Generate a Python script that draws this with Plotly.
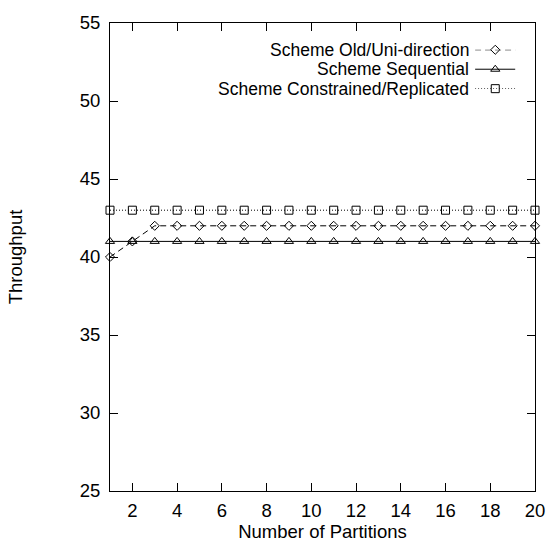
import plotly.graph_objects as go

partitions = list(range(1, 21))
old_uni = [40, 41] + [42] * 18
sequential = [41] * 20
constrained = [43] * 20

series_names = [
    "Scheme Old/Uni-direction",
    "Scheme Sequential",
    "Scheme Constrained/Replicated",
]
series_values = [old_uni, sequential, constrained]
series_symbols = ["diamond-open", "triangle-up-open", "square-open"]
series_sizes = [7, 8, 8]
series_dash = ["6px,4px", "solid", "1px,2px"]

x_ticks = list(range(2, 21, 2))
y_ticks = list(range(25, 56, 5))

FONT = "Liberation Sans, Arial, sans-serif"
FSIZE = 18.5
KEY_FSIZE = 17.5

fig = go.Figure()

for name, vals, sym, size, dash in zip(series_names, series_values, series_symbols,
                                       series_sizes, series_dash):
    fig.add_trace(go.Scatter(
        x=partitions, y=vals, name=name, mode="lines+markers",
        line=dict(color="black", width=1, dash=dash),
        marker=dict(symbol=sym, size=size, color="black", line=dict(width=1, color="black")),
        showlegend=False, cliponaxis=False,
    ))

# key drawn gnuplot-style: label on the left, sample on the right
legend_rows = [0, 1, 2]
legend_text_y = [0.9428, 0.9012, 0.8597]
for row, ty, name, sym, size, dash in zip(legend_rows, legend_text_y, series_names,
                                          series_symbols, series_sizes, series_dash):
    fig.add_trace(go.Scatter(
        x=[0.0, 1.0], y=[row, row], mode="lines", xaxis="x2", yaxis="y2",
        line=dict(color="black", width=1, dash=dash), showlegend=False, hoverinfo="skip",
        cliponaxis=False,
    ))
    fig.add_trace(go.Scatter(
        x=[0.5], y=[row], mode="markers", xaxis="x2", yaxis="y2",
        marker=dict(symbol=sym, size=size, color="black", line=dict(width=1, color="black")),
        showlegend=False, hoverinfo="skip", cliponaxis=False,
    ))
    fig.add_annotation(
        x=0.848, y=ty, xref="paper", yref="paper", text=name, showarrow=False,
        xanchor="right", yanchor="middle", borderpad=0,
        font=dict(family=FONT, size=KEY_FSIZE, color="black"),
    )

axis_common = dict(
    showgrid=False, zeroline=False, showline=True, linecolor="black", linewidth=1,
    mirror="allticks", ticks="inside", ticklen=8, tickwidth=1, tickcolor="black",
    tickfont=dict(family=FONT, size=FSIZE, color="black"),
)

fig.update_layout(
    width=557, height=546,
    margin=dict(l=110, r=14, t=13, b=52),
    paper_bgcolor="white", plot_bgcolor="white",
    showlegend=False,
    xaxis=dict(range=[1, 20], tickvals=x_ticks, ticklabelstandoff=3, **axis_common,
               title=dict(text="Number of Partitions", standoff=0,
                          font=dict(family=FONT, size=FSIZE, color="black"))),
    yaxis=dict(range=[25, 55], tickvals=y_ticks, ticklabelstandoff=5, **axis_common,
               title=dict(text="Throughput", standoff=52,
                          font=dict(family=FONT, size=FSIZE, color="black"))),
    xaxis2=dict(domain=[0.859, 0.954], range=[0, 1], anchor="y2", visible=False, fixedrange=True),
    yaxis2=dict(domain=[0.8597, 0.9428], range=[2, 0], anchor="x2", visible=False, fixedrange=True),
)

fig.write_html("out.html")
